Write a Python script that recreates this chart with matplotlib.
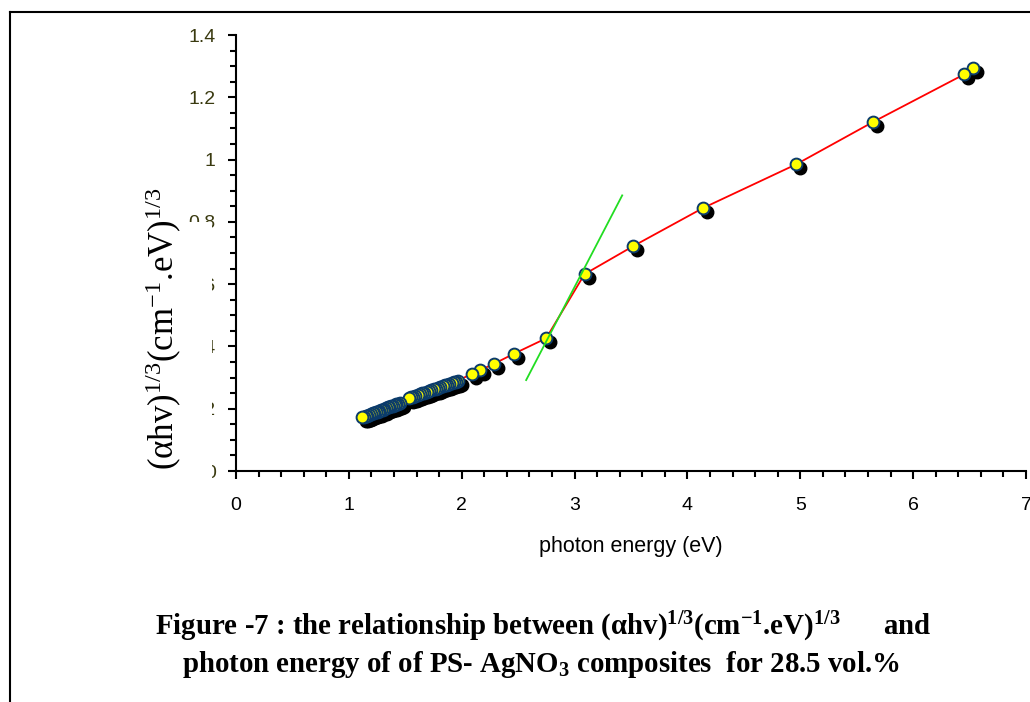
import matplotlib
matplotlib.use("Agg")
import matplotlib.pyplot as plt
from matplotlib.transforms import offset_copy
from matplotlib.patches import Rectangle
from matplotlib.lines import Line2D

plt.rcParams['mathtext.fontset'] = 'custom'
plt.rcParams['mathtext.rm'] = 'Liberation Serif'
plt.rcParams['mathtext.it'] = 'Liberation Serif:italic'
plt.rcParams['mathtext.bf'] = 'Liberation Serif:bold'

# ---- data ----
energy = [1.12, 1.135, 1.15, 1.165, 1.18, 1.195, 1.21, 1.225, 1.24, 1.255, 1.27, 1.285,
          1.30, 1.315, 1.33, 1.345, 1.36, 1.375, 1.39, 1.405, 1.42, 1.435, 1.45,
          1.53, 1.55, 1.57, 1.59, 1.61, 1.63, 1.65, 1.67, 1.69, 1.71, 1.73, 1.75,
          1.77, 1.79, 1.81, 1.83, 1.85, 1.87, 1.89, 1.91, 1.93, 1.95, 1.97,
          2.09, 2.16, 2.29, 2.465, 2.748, 3.088, 3.522, 4.134, 4.965, 5.641, 6.454, 6.528]
ahv13 = [0.172, 0.174, 0.176, 0.178, 0.180, 0.183, 0.185, 0.187, 0.189, 0.191, 0.193, 0.195,
         0.197, 0.199, 0.201, 0.204, 0.206, 0.208, 0.210, 0.212, 0.214, 0.216, 0.218,
         0.234, 0.237, 0.239, 0.242, 0.244, 0.247, 0.249, 0.252, 0.254, 0.257, 0.259, 0.262,
         0.264, 0.267, 0.270, 0.272, 0.275, 0.277, 0.280, 0.282, 0.285, 0.287, 0.290,
         0.313, 0.323, 0.345, 0.377, 0.426, 0.632, 0.7225, 0.8436, 0.985, 1.12, 1.274, 1.293]
fit_x = [2.571, 3.422]
fit_y = [0.292, 0.885]
y_ticks = [0, 0.2, 0.4, 0.6, 0.8, 1.0, 1.2, 1.4]
y_ticklabels = ['0', '0.2', '0.4', '0.6', '0.8', '1', '1.2', '1.4']
x_ticks = [0, 1, 2, 3, 4, 5, 6, 7]

W, H = 1030, 702
fig = plt.figure(figsize=(W / 100, H / 100), dpi=100)
ax = fig.add_axes([236 / W, 1 - 471 / H, 790 / W, 436 / H])

# shadow markers
shadow_tr = offset_copy(ax.transData, fig=fig, x=4, y=-4, units='dots')
ax.plot(energy[::-1], ahv13[::-1], 'o', ms=9, mfc='black', mec='black', mew=1,
        transform=shadow_tr, zorder=2, clip_on=False)
ax.plot(energy, ahv13, '-', color='red', lw=1.3, zorder=2.5)
ax.plot(energy[::-1], ahv13[::-1], 'o', ms=8.5, mfc='#FFFF00', mec='#0B3B6B', mew=1.4,
        zorder=3, clip_on=False)
ax.plot(fit_x, fit_y, '-', color='#22DD22', lw=1.3, zorder=4)

ax.set_xlim(0, 7)
ax.set_ylim(0, 1.4)
for s in ['top', 'right']:
    ax.spines[s].set_visible(False)
for s in ['left', 'bottom']:
    ax.spines[s].set_linewidth(1.5)
ax.set_xticks(x_ticks)
ax.set_xticks([i * 0.2 for i in range(36)], minor=True)
ax.set_yticks(y_ticks)
ax.set_yticklabels(y_ticklabels)
ax.set_yticks([i * 0.05 for i in range(29)], minor=True)
ax.tick_params(which='major', direction='out', length=6, width=1.5)
ax.tick_params(which='minor', direction='out', length=4, width=1.5)
ax.tick_params(axis='x', labelsize=14, pad=12.5)
ax.tick_params(axis='y', labelsize=14, pad=8.5, labelcolor='#3a3a10')
for lab in ax.get_xticklabels() + ax.get_yticklabels():
    lab.set_family('Liberation Sans')

ax.set_xlabel('photon energy (eV)', family='Liberation Sans', fontsize=15.5, labelpad=16)

# white area behind y label (as in reference, it covers tick labels)
fig.patches.append(Rectangle((143 / W, 1 - 478 / H), 69 / W, 256 / H,
                             transform=fig.transFigure, facecolor='white',
                             edgecolor='none', zorder=5))
fig.text(164 / W, 1 - 329 / H, r'(αhv)$^{1/3}$(cm$^{-1}$.eV)$^{1/3}$',
         rotation=90, ha='center', va='center', family='Liberation Serif',
         fontsize=25, zorder=6)

# caption
fig.text(543 / W, 1 - 627 / H,
         r'Figure -7 : the relationship between (αhv)$^{\mathbf{1/3}}$(cm$^{\mathbf{-1}}$.eV)$^{\mathbf{1/3}}$      and',
         ha='center', va='center', family='Liberation Serif', fontweight='bold', fontsize=20.8)
fig.text(541 / W, 1 - 664 / H,
         r'photon energy of of PS- AgNO$_{\mathbf{3}}$ composites  for 28.5 vol.%',
         ha='center', va='center', family='Liberation Serif', fontweight='bold', fontsize=20.8)

# outer frame
fig.lines.append(Line2D([10 / W, 10 / W], [0, 1 - 12 / H], transform=fig.transFigure,
                        color='black', lw=1.5))
fig.lines.append(Line2D([10 / W, 1], [1 - 12 / H, 1 - 12 / H], transform=fig.transFigure,
                        color='black', lw=1.5))

fig.savefig('out.png', dpi=100)
